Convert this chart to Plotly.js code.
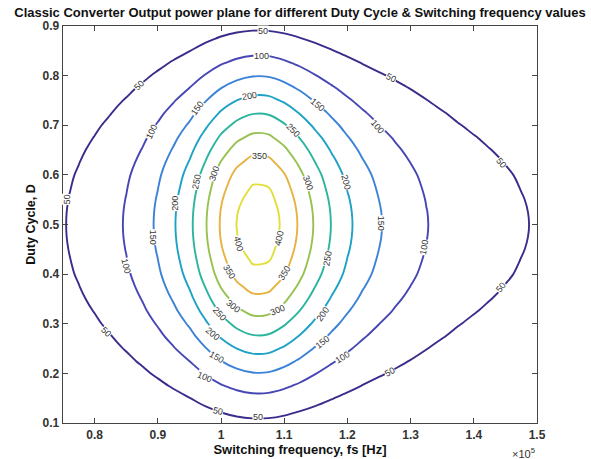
<!DOCTYPE html>
<html>
<head>
<meta charset="utf-8">
<script src="https://cdn.plot.ly/plotly-3.0.1.min.js"></script>
<style>html,body{margin:0;padding:0;background:#fff;}#chart{width:591px;height:459px;}</style>
</head>
<body>
<div id="chart"></div>
<script>
// Switching frequency grid (Hz)
var fs = [75000, 77500, 80000, 82500, 85000, 87500, 90000, 92500, 95000, 97500, 100000, 102500, 105000, 107500, 110000, 112500, 115000, 117500, 120000, 122500, 125000, 127500, 130000, 132500, 135000, 137500, 140000, 142500, 145000, 147500, 150000];
// Duty cycle grid
var duty = [0.100, 0.125, 0.150, 0.175, 0.200, 0.225, 0.250, 0.275, 0.300, 0.325, 0.350, 0.375, 0.400, 0.425, 0.450, 0.475, 0.500, 0.525, 0.550, 0.575, 0.600, 0.625, 0.650, 0.675, 0.700, 0.725, 0.750, 0.775, 0.800, 0.825, 0.850, 0.875, 0.900];
// Output power (W), one row per duty-cycle value
var pD0100 = [4.7, 5.7, 6.8, 8.3, 10.2, 12.5, 15.4, 19.0, 23.2, 28.8, 34.7, 39.2, 41.8, 41.5, 38.1, 33.4, 28.5, 24.2, 20.5, 17.5, 15.0, 13.1, 11.4, 9.9, 8.7, 7.7, 6.9, 6.3, 5.7, 5.1, 4.6];
var pD0125 = [7.1, 8.6, 10.4, 12.7, 15.5, 19.1, 23.5, 29.0, 35.4, 43.9, 52.8, 59.7, 63.7, 63.3, 58.0, 50.9, 43.5, 36.9, 31.3, 26.6, 22.9, 19.9, 17.4, 15.1, 13.2, 11.7, 10.5, 9.5, 8.6, 7.8, 7.1];
var pD0150 = [9.9, 12.0, 14.5, 17.6, 21.5, 26.5, 32.7, 40.4, 49.3, 61.1, 73.5, 83.0, 88.6, 88.0, 80.7, 70.8, 60.4, 51.3, 43.5, 37.0, 31.9, 27.7, 24.2, 21.0, 18.4, 16.2, 14.6, 13.2, 12.0, 10.9, 9.8];
var pD0175 = [13.1, 15.8, 19.1, 23.2, 28.4, 35.0, 43.2, 53.3, 65.0, 80.6, 97.0, 109.6, 117.0, 116.1, 106.6, 93.5, 79.8, 67.8, 57.4, 48.9, 42.1, 36.6, 32.0, 27.7, 24.3, 21.5, 19.3, 17.5, 15.8, 14.3, 13.0];
var pD0200 = [16.6, 20.0, 24.2, 29.4, 35.9, 44.2, 54.6, 67.3, 82.2, 101.9, 122.6, 138.5, 147.8, 146.8, 134.7, 118.1, 100.8, 85.6, 72.5, 61.8, 53.2, 46.3, 40.4, 35.1, 30.7, 27.1, 24.3, 22.1, 20.0, 18.1, 16.4];
var pD0225 = [20.2, 24.4, 29.5, 35.8, 43.8, 53.9, 66.5, 82.1, 100.2, 124.2, 149.4, 168.8, 180.2, 178.9, 164.2, 144.0, 122.9, 104.4, 88.4, 75.3, 64.8, 56.4, 49.2, 42.7, 37.5, 33.0, 29.7, 26.9, 24.4, 22.1, 20.0];
var pD0250 = [23.9, 28.9, 34.9, 42.4, 51.9, 63.9, 78.8, 97.3, 118.7, 147.2, 177.1, 200.0, 213.5, 212.0, 194.5, 170.6, 145.7, 123.7, 104.8, 89.3, 76.8, 66.8, 58.4, 50.6, 44.4, 39.2, 35.2, 31.9, 28.9, 26.2, 23.7];
var pD0275 = [27.7, 33.5, 40.4, 49.0, 60.0, 73.8, 91.1, 112.5, 137.3, 170.1, 204.7, 231.3, 246.8, 245.1, 224.9, 197.2, 168.4, 143.0, 121.1, 103.2, 88.8, 77.3, 67.5, 58.5, 51.3, 45.3, 40.7, 36.9, 33.5, 30.3, 27.4];
var pD0300 = [31.3, 37.8, 45.7, 55.4, 67.8, 83.5, 103.1, 127.2, 155.3, 192.4, 231.6, 261.6, 279.2, 277.2, 254.4, 223.1, 190.5, 161.8, 137.0, 116.8, 100.5, 87.4, 76.3, 66.2, 58.1, 51.2, 46.0, 41.7, 37.8, 34.2, 31.0];
var pD0325 = [34.8, 42.1, 50.8, 61.7, 75.5, 92.9, 114.6, 141.5, 172.7, 214.0, 257.6, 291.0, 310.5, 308.4, 283.0, 248.1, 211.9, 179.9, 152.4, 129.9, 111.7, 97.2, 84.9, 73.6, 64.6, 57.0, 51.2, 46.4, 42.1, 38.1, 34.5];
var pD0350 = [38.0, 45.9, 55.3, 67.2, 82.2, 101.2, 124.9, 154.2, 188.2, 233.3, 280.7, 317.1, 338.4, 336.0, 308.4, 270.4, 230.9, 196.1, 166.0, 141.5, 121.8, 106.0, 92.5, 80.3, 70.4, 62.1, 55.7, 50.6, 45.9, 41.5, 37.6];
var pD0375 = [40.9, 49.4, 59.6, 72.3, 88.5, 108.9, 134.5, 166.0, 202.6, 251.1, 302.2, 341.3, 364.3, 361.7, 332.0, 291.1, 248.5, 211.1, 178.7, 152.4, 131.1, 114.1, 99.6, 86.4, 75.8, 66.8, 60.0, 54.5, 49.4, 44.7, 40.4];
var pD0400 = [43.4, 52.5, 63.3, 76.9, 94.1, 115.8, 142.9, 176.4, 215.3, 266.9, 321.2, 362.8, 387.2, 384.5, 352.8, 309.4, 264.2, 224.4, 190.0, 161.9, 139.3, 121.2, 105.8, 91.8, 80.5, 71.0, 63.8, 57.9, 52.5, 47.5, 43.0];
var pD0425 = [45.2, 54.6, 65.9, 80.1, 98.0, 120.6, 148.8, 183.7, 224.2, 277.8, 334.4, 377.7, 403.1, 400.3, 367.3, 322.1, 275.0, 233.6, 197.8, 168.6, 145.0, 126.2, 110.2, 95.6, 83.8, 73.9, 66.4, 60.3, 54.6, 49.4, 44.7];
var pD0450 = [46.7, 56.4, 68.1, 82.7, 101.2, 124.6, 153.8, 189.8, 231.6, 287.1, 345.5, 390.3, 416.6, 413.6, 379.6, 332.9, 284.2, 241.4, 204.4, 174.2, 149.9, 130.4, 113.9, 98.8, 86.6, 76.4, 68.6, 62.3, 56.4, 51.1, 46.2];
var pD0475 = [47.7, 57.6, 69.5, 84.4, 103.3, 127.1, 156.9, 193.6, 236.3, 292.9, 352.5, 398.2, 425.0, 422.0, 387.3, 339.6, 290.0, 246.3, 208.5, 177.8, 152.9, 133.1, 116.2, 100.8, 88.4, 78.0, 70.0, 63.6, 57.6, 52.1, 47.2];
var pD0500 = [48.0, 58.0, 70.0, 85.0, 104.0, 128.0, 158.0, 195.0, 238.0, 295.0, 355.0, 401.0, 428.0, 425.0, 390.0, 342.0, 292.0, 248.0, 210.0, 179.0, 154.0, 134.0, 117.0, 101.5, 89.0, 78.5, 70.5, 64.0, 58.0, 52.5, 47.5];
var pD0525 = [47.7, 57.6, 69.5, 84.4, 103.3, 127.1, 156.9, 193.6, 236.3, 292.9, 352.5, 398.2, 425.0, 422.0, 387.3, 339.6, 290.0, 246.3, 208.5, 177.8, 152.9, 133.1, 116.2, 100.8, 88.4, 78.0, 70.0, 63.6, 57.6, 52.1, 47.2];
var pD0550 = [46.7, 56.4, 68.1, 82.7, 101.2, 124.6, 153.8, 189.8, 231.6, 287.1, 345.5, 390.3, 416.6, 413.6, 379.6, 332.9, 284.2, 241.4, 204.4, 174.2, 149.9, 130.4, 113.9, 98.8, 86.6, 76.4, 68.6, 62.3, 56.4, 51.1, 46.2];
var pD0575 = [45.2, 54.6, 65.9, 80.1, 98.0, 120.6, 148.8, 183.7, 224.2, 277.8, 334.4, 377.7, 403.1, 400.3, 367.3, 322.1, 275.0, 233.6, 197.8, 168.6, 145.0, 126.2, 110.2, 95.6, 83.8, 73.9, 66.4, 60.3, 54.6, 49.4, 44.7];
var pD0600 = [43.4, 52.5, 63.3, 76.9, 94.1, 115.8, 142.9, 176.4, 215.3, 266.9, 321.2, 362.8, 387.2, 384.5, 352.8, 309.4, 264.2, 224.4, 190.0, 161.9, 139.3, 121.2, 105.8, 91.8, 80.5, 71.0, 63.8, 57.9, 52.5, 47.5, 43.0];
var pD0625 = [40.9, 49.4, 59.6, 72.3, 88.5, 108.9, 134.5, 166.0, 202.6, 251.1, 302.2, 341.3, 364.3, 361.7, 332.0, 291.1, 248.5, 211.1, 178.7, 152.4, 131.1, 114.1, 99.6, 86.4, 75.8, 66.8, 60.0, 54.5, 49.4, 44.7, 40.4];
var pD0650 = [38.0, 45.9, 55.3, 67.2, 82.2, 101.2, 124.9, 154.2, 188.2, 233.3, 280.7, 317.1, 338.4, 336.0, 308.4, 270.4, 230.9, 196.1, 166.0, 141.5, 121.8, 106.0, 92.5, 80.3, 70.4, 62.1, 55.7, 50.6, 45.9, 41.5, 37.6];
var pD0675 = [34.8, 42.1, 50.8, 61.7, 75.5, 92.9, 114.6, 141.5, 172.7, 214.0, 257.6, 291.0, 310.5, 308.4, 283.0, 248.1, 211.9, 179.9, 152.4, 129.9, 111.7, 97.2, 84.9, 73.6, 64.6, 57.0, 51.2, 46.4, 42.1, 38.1, 34.5];
var pD0700 = [31.3, 37.8, 45.7, 55.4, 67.8, 83.5, 103.1, 127.2, 155.3, 192.4, 231.6, 261.6, 279.2, 277.2, 254.4, 223.1, 190.5, 161.8, 137.0, 116.8, 100.5, 87.4, 76.3, 66.2, 58.1, 51.2, 46.0, 41.7, 37.8, 34.2, 31.0];
var pD0725 = [27.7, 33.5, 40.4, 49.0, 60.0, 73.8, 91.1, 112.5, 137.3, 170.1, 204.7, 231.3, 246.8, 245.1, 224.9, 197.2, 168.4, 143.0, 121.1, 103.2, 88.8, 77.3, 67.5, 58.5, 51.3, 45.3, 40.7, 36.9, 33.5, 30.3, 27.4];
var pD0750 = [23.9, 28.9, 34.9, 42.4, 51.9, 63.9, 78.8, 97.3, 118.7, 147.2, 177.1, 200.0, 213.5, 212.0, 194.5, 170.6, 145.7, 123.7, 104.8, 89.3, 76.8, 66.8, 58.4, 50.6, 44.4, 39.2, 35.2, 31.9, 28.9, 26.2, 23.7];
var pD0775 = [20.2, 24.4, 29.5, 35.8, 43.8, 53.9, 66.5, 82.1, 100.2, 124.2, 149.4, 168.8, 180.2, 178.9, 164.2, 144.0, 122.9, 104.4, 88.4, 75.3, 64.8, 56.4, 49.2, 42.7, 37.5, 33.0, 29.7, 26.9, 24.4, 22.1, 20.0];
var pD0800 = [16.6, 20.0, 24.2, 29.4, 35.9, 44.2, 54.6, 67.3, 82.2, 101.9, 122.6, 138.5, 147.8, 146.8, 134.7, 118.1, 100.8, 85.6, 72.5, 61.8, 53.2, 46.3, 40.4, 35.1, 30.7, 27.1, 24.3, 22.1, 20.0, 18.1, 16.4];
var pD0825 = [13.1, 15.8, 19.1, 23.2, 28.4, 35.0, 43.2, 53.3, 65.0, 80.6, 97.0, 109.6, 117.0, 116.1, 106.6, 93.5, 79.8, 67.8, 57.4, 48.9, 42.1, 36.6, 32.0, 27.7, 24.3, 21.5, 19.3, 17.5, 15.8, 14.3, 13.0];
var pD0850 = [9.9, 12.0, 14.5, 17.6, 21.5, 26.5, 32.7, 40.4, 49.3, 61.1, 73.5, 83.0, 88.6, 88.0, 80.7, 70.8, 60.4, 51.3, 43.5, 37.0, 31.9, 27.7, 24.2, 21.0, 18.4, 16.2, 14.6, 13.2, 12.0, 10.9, 9.8];
var pD0875 = [7.1, 8.6, 10.4, 12.7, 15.5, 19.1, 23.5, 29.0, 35.4, 43.9, 52.8, 59.7, 63.7, 63.3, 58.0, 50.9, 43.5, 36.9, 31.3, 26.6, 22.9, 19.9, 17.4, 15.1, 13.2, 11.7, 10.5, 9.5, 8.6, 7.8, 7.1];
var pD0900 = [4.7, 5.7, 6.8, 8.3, 10.2, 12.5, 15.4, 19.0, 23.2, 28.8, 34.7, 39.2, 41.8, 41.5, 38.1, 33.4, 28.5, 24.2, 20.5, 17.5, 15.0, 13.1, 11.4, 9.9, 8.7, 7.7, 6.9, 6.3, 5.7, 5.1, 4.6];

var levels = [50, 100, 150, 200, 250, 300, 350, 400];
var levelColors = ['#3b2c8c', '#4646b4', '#3c82d6', '#1fa2c6', '#2cb59e', '#97c252', '#e8b240', '#e2de3a'];
var xTickVals = [80000, 90000, 100000, 110000, 120000, 130000, 140000, 150000];
var xTickText = ['0.8', '0.9', '1', '1.1', '1.2', '1.3', '1.4', '1.5'];
var yTickVals = [0.1, 0.2, 0.3, 0.4, 0.5, 0.6, 0.7, 0.8, 0.9];

// inline contour label placements: [level, fs (Hz), D, text angle]
var labelSpots = [
  [50, 106600, 0.889, 0], [50, 87100, 0.781, -45], [50, 75600, 0.550, -88], [50, 81850, 0.283, 45],
  [50, 99500, 0.125, 12], [50, 105800, 0.1115, 0], [50, 126700, 0.202, -28], [50, 144350, 0.3736, -52],
  [50, 126950, 0.795, 27], [50, 144350, 0.6236, 52],
  [100, 106400, 0.840, 0], [100, 88970, 0.687, -65], [100, 85000, 0.417, 75], [100, 97400, 0.192, 22],
  [100, 119300, 0.2325, -32], [100, 132200, 0.454, -80], [100, 124800, 0.697, 50],
  [150, 96300, 0.734, -55], [150, 89200, 0.474, 90], [150, 99260, 0.2325, 30], [150, 116100, 0.263, -38],
  [150, 125360, 0.503, 90], [150, 115300, 0.741, 40],
  [200, 104500, 0.758, -8], [200, 92800, 0.543, -90], [200, 98700, 0.279, 40], [200, 116100, 0.320, -55],
  [200, 119800, 0.586, 75],
  [250, 111400, 0.691, 45], [250, 96100, 0.586, -78], [250, 99800, 0.320, 48], [250, 116900, 0.432, -80],
  [300, 99000, 0.603, -72], [300, 113750, 0.583, 70], [300, 101900, 0.3365, 38], [300, 109000, 0.328, -22],
  [350, 106100, 0.639, 0], [350, 101360, 0.405, 58], [350, 110060, 0.402, -58],
  [400, 102700, 0.462, 75], [400, 109270, 0.472, -78]
];

var power = [pD0100, pD0125, pD0150, pD0175, pD0200, pD0225, pD0250, pD0275, pD0300, pD0325, pD0350,
  pD0375, pD0400, pD0425, pD0450, pD0475, pD0500, pD0525, pD0550, pD0575, pD0600, pD0625, pD0650,
  pD0675, pD0700, pD0725, pD0750, pD0775, pD0800, pD0825, pD0850, pD0875, pD0900];

var lo = levels[0], hi = levels[levels.length - 1];
var cscale = levels.map(function (v, i) { return [(v - lo) / (hi - lo), levelColors[i]]; });

var trace = {
  type: 'contour',
  x: fs, y: duty, z: power,
  zauto: false, zmin: lo, zmax: hi,
  colorscale: cscale,
  showscale: false,
  contours: {start: lo, end: hi, size: levels[1] - levels[0], coloring: 'lines', showlabels: false},
  line: {width: 1.9, smoothing: 1},
  hoverinfo: 'skip'
};

var fam = 'Liberation Sans, Arial, sans-serif';
var labelAnns = labelSpots.map(function (s) {
  return {
    text: String(s[0]), x: s[1], y: s[2], xref: 'x', yref: 'y',
    textangle: s[3], showarrow: false, xanchor: 'center', yanchor: 'middle',
    bgcolor: '#ffffff', borderpad: 0,
    font: {family: fam, size: 9, color: '#333'}
  };
});
labelAnns.push({
  text: '\u00d710<sup>5</sup>', xref: 'paper', yref: 'paper', x: 1, y: -0.075,
  xanchor: 'right', yanchor: 'middle', showarrow: false,
  font: {family: fam, size: 11, color: '#333'}
});

var axFont = {family: fam, size: 12, color: '#333', weight: 'bold'};
var layout = {
  width: 591, height: 459,
  margin: {l: 63, r: 54, t: 26, b: 36},
  paper_bgcolor: '#fff', plot_bgcolor: '#fff',
  showlegend: false,
  title: {
    text: 'Classic Converter Output power plane for different Duty Cycle &amp; Switching frequency values',
    font: {family: fam, size: 13, color: '#111', weight: 'bold'},
    x: 0.5, xref: 'paper', y: 1 - 12.5 / 459, yref: 'container', yanchor: 'middle'
  },
  xaxis: {
    range: [75000, 150000],
    tickmode: 'array', tickvals: xTickVals, ticktext: xTickText,
    ticks: 'inside', ticklen: 5, tickcolor: '#444', tickwidth: 1,
    showline: true, linecolor: '#444', linewidth: 1.3, mirror: 'ticks',
    showgrid: false, zeroline: false,
    tickfont: axFont,
    title: {text: 'Switching frequency, fs [Hz]', font: {family: fam, size: 13, color: '#111', weight: 'bold'}, standoff: 0}
  },
  yaxis: {
    range: [0.1, 0.9],
    tickmode: 'array', tickvals: yTickVals, ticktext: yTickVals.map(function (v) { return v.toFixed(1); }),
    ticks: 'inside', ticklen: 5, tickcolor: '#444', tickwidth: 1,
    showline: true, linecolor: '#444', linewidth: 1.3, mirror: 'ticks',
    showgrid: false, zeroline: false,
    tickfont: axFont,
    title: {text: 'Duty Cycle, D', font: {family: fam, size: 12.5, color: '#111', weight: 'bold'}, standoff: 4}
  },
  annotations: labelAnns
};

Plotly.newPlot('chart', [trace], layout, {displayModeBar: false, staticPlot: true});
</script>
</body>
</html>
